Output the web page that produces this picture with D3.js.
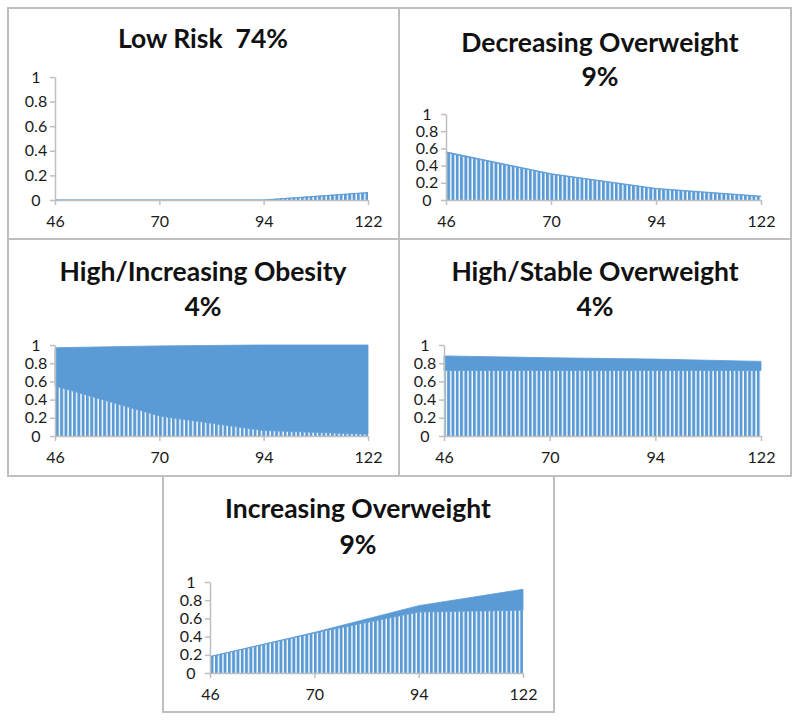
<!DOCTYPE html>
<html><head><meta charset="utf-8">
<script src="https://cdn.jsdelivr.net/npm/d3@7"></script>
<style>body{margin:0;background:#fff}svg{display:block}text{white-space:pre}</style>
</head><body><svg id="c" width="800" height="721"></svg>
<script>
// ---- data ----
const timepoints = ["46", "70", "94", "122"];
const yTickValues = [0, 0.2, 0.4, 0.6, 0.8, 1];
const seriesKeys = ["overweight", "obese"];

const titleLowRisk = ["Low Risk  74%"];
const titleDecreasing = ["Decreasing Overweight", "9%"];
const titleHighIncObesity = ["High/Increasing Obesity", "4%"];
const titleHighStable = ["High/Stable Overweight", "4%"];
const titleIncreasing = ["Increasing Overweight", "9%"];

const lowRiskOverweight = [0, 0, 0, 0.06];
const lowRiskObese = [0, 0, 0, 0];
const decreasingOverweight = [0.55, 0.30, 0.13, 0.04];
const decreasingObese = [0.01, 0.006, 0.005, 0.005];
const highIncObesityOverweight = [0.55, 0.22, 0.06, 0.02];
const highIncObesityObese = [0.42, 0.77, 0.94, 0.98];
const highStableOverweight = [0.72, 0.72, 0.72, 0.72];
const highStableObese = [0.16, 0.14, 0.125, 0.10];
const increasingOverweight = [0.18, 0.44, 0.67, 0.69];
const increasingObese = [0.0, 0.006, 0.07, 0.23];

// ---- layout ----
const BLUE = "#5B9BD5";
const panels = [
  {title: titleLowRisk, ow: lowRiskOverweight, ob: lowRiskObese,
   box: [8, 8, 391, 231], plot: [55, 368, 77, 200], cx: 203, ty: [48]},
  {title: titleDecreasing, ow: decreasingOverweight, ob: decreasingObese,
   box: [399, 8, 392, 231], plot: [446, 761, 114, 200], cx: 600, ty: [52, 86]},
  {title: titleHighIncObesity, ow: highIncObesityOverweight, ob: highIncObesityObese,
   box: [8, 239, 391, 237], plot: [55, 368, 345, 436], cx: 203, ty: [281, 316]},
  {title: titleHighStable, ow: highStableOverweight, ob: highStableObese,
   box: [399, 239, 392, 237], plot: [444, 761, 345, 436], cx: 595, ty: [281, 316]},
  {title: titleIncreasing, ow: increasingOverweight, ob: increasingObese,
   box: [163, 476, 391, 236], plot: [210, 523, 582, 673], cx: 358, ty: [518, 554]}
];

const svg = d3.select("#c");
const defs = svg.append("defs");
const pat = defs.append("pattern").attr("id", "vstripe")
  .attr("patternUnits", "userSpaceOnUse").attr("width", 4.3).attr("height", 10);
pat.append("rect").attr("width", 4.3).attr("height", 10).attr("fill", "#fff");
pat.append("rect").attr("width", 2.9).attr("height", 10).attr("fill", BLUE);

const FONT = "Lato, 'Open Sans', sans-serif";

panels.forEach(p => {
  const g = svg.append("g");
  // border
  g.append("rect").attr("x", p.box[0]).attr("y", p.box[1])
    .attr("width", p.box[2]).attr("height", p.box[3])
    .attr("fill", "none").attr("stroke", "#BFBFBF").attr("stroke-width", 2);

  // titles
  p.title.forEach((t, i) => {
    g.append("text").attr("x", p.cx).attr("y", p.ty[i])
      .attr("text-anchor", "middle").attr("font-family", FONT)
      .attr("font-weight", "bold").attr("font-size", 26.5)
      .attr("fill", "#111").text(t);
  });

  const [x0, x1, yT, yB] = p.plot;
  const x = d3.scalePoint().domain(timepoints).range([x0, x1]).padding(0);
  const y = d3.scaleLinear().domain([0, 1]).range([yB, yT]);

  const rows = timepoints.map((tp, i) => ({tp, overweight: p.ow[i], obese: p.ob[i]}));
  const stacked = d3.stack().keys(seriesKeys)(rows);
  const area = d3.area().x(d => x(d.data.tp)).y0(d => y(d[0])).y1(d => y(d[1]));

  g.selectAll("path.layer").data(stacked).join("path")
    .attr("class", "layer")
    .attr("d", area)
    .attr("fill", d => d.key === "overweight" ? "url(#vstripe)" : BLUE)
    .attr("stroke", d => d.key === "obese" ? BLUE : "none")
    .attr("stroke-width", d => d.key === "obese" ? 0.8 : 0);

  // axes
  const xAxis = d3.axisBottom(x).tickSize(5).tickSizeOuter(0);
  const xg = g.append("g").attr("transform", `translate(0,${yB})`).call(xAxis);
  const yAxis = d3.axisLeft(y).tickValues(yTickValues).tickSize(5).tickSizeOuter(0)
    .tickFormat(d => d3.format("~g")(d));
  const yg = g.append("g").attr("transform", `translate(${x0},0)`).call(yAxis);

  [xg, yg].forEach(ax => {
    ax.select(".domain").attr("stroke", "#BFBFBF").attr("stroke-width", 1.5);
    ax.selectAll(".tick line").attr("stroke", "#BFBFBF").attr("stroke-width", 1.5);
    ax.selectAll(".tick text").attr("font-family", FONT).attr("font-size", 16)
      .attr("fill", "#1a1a1a");
  });
  xg.selectAll(".tick text").attr("y", 27).attr("dy", 0);
  yg.selectAll(".tick text").attr("text-anchor", "middle").attr("x", -19);
});
</script>
</body></html>
